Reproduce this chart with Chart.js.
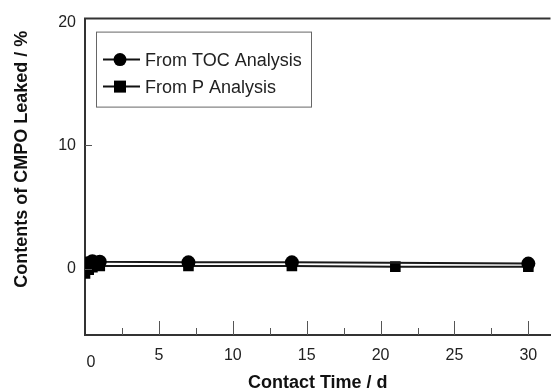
<!DOCTYPE html>
<html><head><meta charset="utf-8">
<script src="https://cdn.jsdelivr.net/npm/chart.js@4/dist/chart.umd.min.js"></script>
<style>html,body{margin:0;padding:0;background:#fff;overflow:hidden}#wrap{width:558px;height:392px}</style>
</head><body><div id="wrap"><canvas id="c" width="558" height="392"></canvas></div>
<script>
const seriesNames = ['From TOC Analysis', 'From P Analysis'];
const tocX = [0.1, 0.5, 1, 7, 14, 30];
const tocY = [0.4, 0.6, 0.55, 0.5, 0.5, 0.4];
const pX = [0, 0.25, 0.5, 1, 7, 14, 21, 30];
const pY = [-0.4, -0.1, 0.1, 0.2, 0.2, 0.2, 0.15, 0.15];
const xTickValues = [0, 2.5, 5, 7.5, 10, 12.5, 15, 17.5, 20, 22.5, 25, 27.5, 30];
const yTickValues = [0, 10, 20];
const xTitle = 'Contact Time / d';
const yTitle = 'Contents of CMPO Leaked / %';

const FONT = '"Liberation Sans", Arial, sans-serif';
const toPts = (xs, ys) => xs.map((x, i) => ({x, y: ys[i]}));

const decor = {
  id: 'decor',
  afterDraw(chart) {
    const ctx = chart.ctx, a = chart.chartArea, xs = chart.scales.x, ys = chart.scales.y;
    ctx.save();
    ctx.strokeStyle = '#333'; ctx.lineWidth = 2;
    ctx.beginPath(); ctx.moveTo(a.left - 1, a.top); ctx.lineTo(a.right, a.top); ctx.stroke();
    ctx.lineWidth = 1; ctx.strokeStyle = '#555';
    xs.ticks.forEach(t => {
      if (t.value === 0) return;
      const px = Math.round(xs.getPixelForValue(t.value)) + 0.5;
      const len = (t.value % 5 === 0) ? 14 : 7;
      ctx.beginPath(); ctx.moveTo(px, a.bottom); ctx.lineTo(px, a.bottom - len); ctx.stroke();
    });
    ys.ticks.forEach(t => {
      if (t.value === 20) return;
      const py = Math.round(ys.getPixelForValue(t.value)) + 0.5;
      ctx.beginPath(); ctx.moveTo(a.left, py); ctx.lineTo(a.left + 7, py); ctx.stroke();
    });
    ctx.fillStyle = '#222'; ctx.font = '16px ' + FONT;
    ctx.textAlign = 'center'; ctx.textBaseline = 'middle';
    ctx.fillText('0', xs.getPixelForValue(0) + 6, a.bottom + 28);
    const lx = a.left + 11, ly = a.top + 13, lw = 215, lh = 75;
    ctx.strokeStyle = '#666'; ctx.lineWidth = 1;
    ctx.strokeRect(lx + 0.5, ly + 0.5, lw, lh);
    chart.data.datasets.forEach((ds, i) => {
      const cy = ly + 28 + i * 27;
      ctx.strokeStyle = '#111'; ctx.lineWidth = 2;
      ctx.beginPath(); ctx.moveTo(lx + 7, cy); ctx.lineTo(lx + 44, cy); ctx.stroke();
      ctx.fillStyle = '#000';
      if (ds.pointStyle === 'rect') {
        ctx.fillRect(lx + 24 - 6, cy - 6, 12, 12);
      } else {
        ctx.beginPath(); ctx.arc(lx + 24, cy, 6.5, 0, Math.PI * 2); ctx.fill();
      }
      ctx.fillStyle = '#222'; ctx.font = '18px ' + FONT;
      ctx.textAlign = 'left'; ctx.textBaseline = 'middle';
      ctx.fillText(ds.label, lx + 49, cy + 1);
    });
    ctx.restore();
  }
};

new Chart(document.getElementById('c'), {
  type: 'scatter',
  data: {
    datasets: [
      {label: seriesNames[0], data: toPts(tocX, tocY), showLine: true, borderColor: '#1a1a1a', borderWidth: 2,
       backgroundColor: '#000', pointStyle: 'circle', pointRadius: 7, pointBorderWidth: 0, pointHoverRadius: 7},
      {label: seriesNames[1], data: toPts(pX, pY), showLine: true, borderColor: '#1a1a1a', borderWidth: 2,
       backgroundColor: '#000', pointStyle: 'rect', pointRadius: 7.5, pointBorderWidth: 0, pointHoverRadius: 7.5}
    ]
  },
  options: {
    responsive: false, animation: false, devicePixelRatio: 1,
    layout: {padding: {top: 16, right: 0, left: 0, bottom: 0}},
    plugins: {legend: {display: false}, tooltip: {enabled: false}},
    scales: {
      x: {
        type: 'linear', min: 0, max: 31.5,
        afterBuildTicks: s => { s.ticks = xTickValues.map(v => ({value: v})); },
        afterFit: s => { s.height = 57; },
        grid: {display: false, drawTicks: false},
        border: {display: true, color: '#333', width: 2},
        ticks: {padding: 11, maxRotation: 0, autoSkip: false, color: '#222', font: {family: FONT, size: 16},
          callback: v => (v !== 0 && v % 5 === 0) ? String(v) : ''},
        title: {display: true, text: xTitle, color: '#111', font: {family: FONT, size: 18, weight: 'bold', lineHeight: 1}, padding: {top: 0, bottom: 0}}
      },
      y: {
        type: 'linear', min: -5.4, max: 20.3,
        afterBuildTicks: s => { s.ticks = yTickValues.map(v => ({value: v})); },
        afterFit: s => { s.width = 85; },
        grid: {display: false, drawTicks: false},
        border: {display: true, color: '#333', width: 2},
        ticks: {padding: 9, color: '#222', font: {family: FONT, size: 16}},
        title: {display: true, text: '       ' + yTitle, color: '#111', font: {family: FONT, size: 18, weight: 'bold', lineHeight: 1}, padding: {top: 13, bottom: 0}}
      }
    }
  },
  plugins: [decor]
});
</script></body></html>
